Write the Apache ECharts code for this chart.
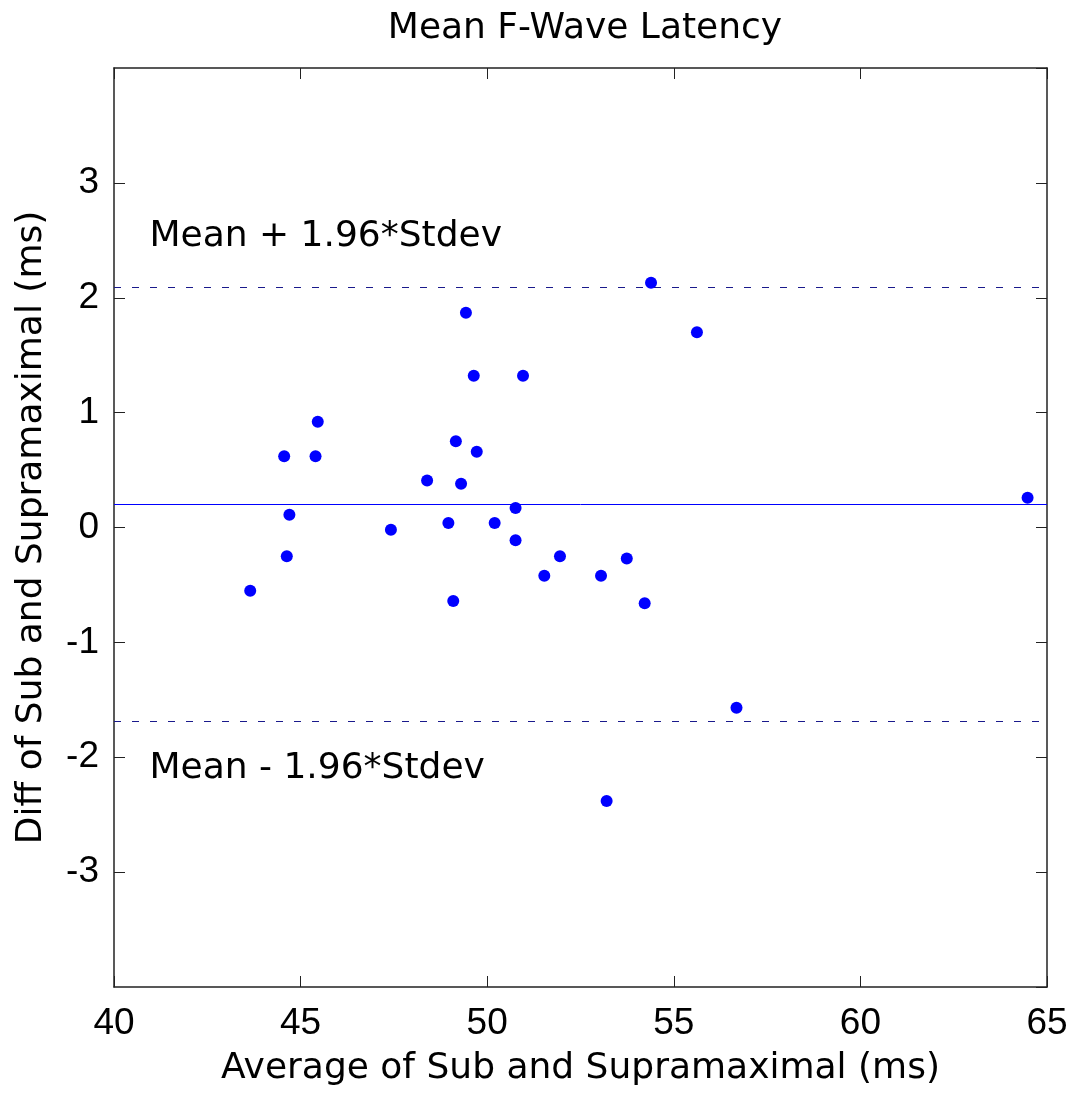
<!DOCTYPE html>
<html>
<head>
    <meta charset="utf-8">
    <title>Mean F-Wave Latency</title>
    <script src="https://cdn.jsdelivr.net/npm/echarts@6/dist/echarts.min.js"></script>
    <style type="text/css">
        body{
            margin: 0;
            background: #fff;
        }
    </style>
</head>
<body>
<div id="main" style="width: 1076px;height:1095px;"></div>
<script>
    // average of sub and supramaximal (ms)
    var avgValues = [43.65, 44.56, 44.63, 44.70, 45.40, 45.46, 47.42, 48.39, 48.96, 49.09,
        49.16, 49.30, 49.43, 49.64, 49.72, 50.20, 50.76, 50.76, 50.96, 51.53,
        51.95, 53.05, 53.20, 53.74, 54.22, 54.39, 55.62, 56.68, 64.48];
    // difference of sub and supramaximal (ms)
    var diffValues = [-0.55, 0.62, -0.25, 0.11, 0.62, 0.92, -0.02, 0.41, 0.04, -0.64,
        0.75, 0.38, 1.87, 1.32, 0.66, 0.04, 0.17, -0.11, 1.32, -0.42,
        -0.25, -0.42, -2.38, -0.27, -0.66, 2.13, 1.70, -1.57, 0.26];
    var meanDiff = 0.2;
    var upperLimit = 2.09;
    var lowerLimit = -1.69;

    var points = [];
    for (var i = 0; i < avgValues.length; i++) {
        points.push([avgValues[i], diffValues[i]]);
    }

    var textFont = '"DejaVu Sans", sans-serif';
    var tickFont = '"Liberation Sans", Arial, sans-serif';
    var fs = 36;
    var frameLine = {show: true, onZero: false, lineStyle: {color: '#222', width: 1.5}};
    var innerTick = {show: true, inside: true, length: 11, lineStyle: {color: '#222', width: 1}};

    var myChart = echarts.init(document.getElementById('main'));
    var option = {
        animation: false,
        title: {
            text: 'Mean F-Wave Latency',
            left: 580,
            textAlign: 'center',
            top: 6,
            textStyle: {fontFamily: textFont, fontSize: fs, fontWeight: 'normal', color: '#000'}
        },
        grid: {left: 114, right: 29, top: 68, bottom: 108, show: false},
        xAxis: [{
            type: 'value', min: 40, max: 65, interval: 5,
            name: 'Average of Sub and Supramaximal (ms)',
            nameLocation: 'middle', nameGap: 64,
            nameTextStyle: {fontFamily: textFont, fontSize: fs, color: '#000'},
            axisLine: frameLine, axisTick: innerTick, splitLine: {show: false},
            axisLabel: {fontFamily: tickFont, fontSize: 37, color: '#000', margin: 18}
        }, {
            type: 'value', min: 40, max: 65, interval: 5, position: 'top',
            axisLine: frameLine, axisTick: innerTick, splitLine: {show: false},
            axisLabel: {show: false}
        }],
        yAxis: [{
            type: 'value', min: -4, max: 4, interval: 1,
            name: 'Diff of Sub and Supramaximal (ms)',
            nameLocation: 'middle', nameGap: 64,
            nameTextStyle: {fontFamily: textFont, fontSize: fs, color: '#000'},
            axisLine: frameLine, axisTick: innerTick, splitLine: {show: false},
            axisLabel: {
                fontFamily: tickFont, fontSize: 37, color: '#000', margin: 15,
                showMinLabel: false, showMaxLabel: false
            }
        }, {
            type: 'value', min: -4, max: 4, interval: 1, position: 'right',
            axisLine: frameLine, axisTick: innerTick, splitLine: {show: false},
            axisLabel: {show: false}
        }],
        series: [{
            name: 'diff',
            type: 'scatter',
            data: points,
            symbol: 'circle',
            symbolSize: 12,
            itemStyle: {color: '#0000ff', opacity: 1},
            z: 5,
            markLine: {
                silent: true,
                symbol: 'none',
                label: {show: false},
                data: [
                    {yAxis: meanDiff, lineStyle: {type: 'solid', color: '#0000ff', width: 1}},
                    {yAxis: upperLimit, lineStyle: {type: [7, 11], color: '#1a1a8c', width: 1}},
                    {yAxis: lowerLimit, lineStyle: {type: [7, 11], color: '#1a1a8c', width: 1}}
                ]
            },
            markPoint: {
                silent: true,
                symbol: 'circle',
                symbolSize: 0,
                label: {
                    show: true, position: 'right', distance: 0,
                    fontFamily: textFont, fontSize: fs, color: '#000'
                },
                data: [
                    {coord: [40.95, 2.53], value: 'Mean + 1.96*Stdev', label: {formatter: 'Mean + 1.96*Stdev'}},
                    {coord: [40.95, -2.1], value: 'Mean - 1.96*Stdev', label: {formatter: 'Mean - 1.96*Stdev'}}
                ]
            }
        }]
    };
    myChart.setOption(option);
</script>
</body>
</html>
